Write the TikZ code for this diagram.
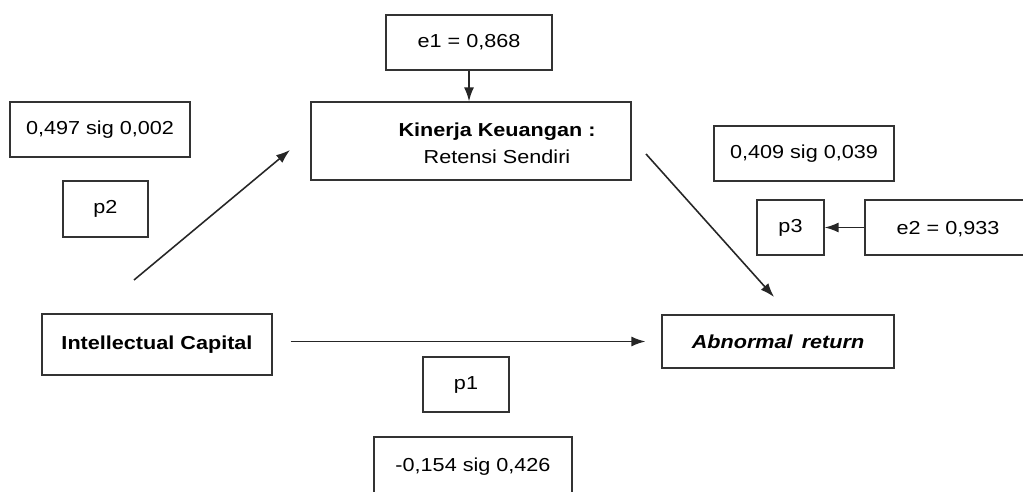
\documentclass[tikz,border=0pt]{standalone}
\usepackage{fontspec}
\setmainfont{Liberation Sans}[FakeStretch=1.15]
\usetikzlibrary{arrows.meta}

\tikzset{
  box/.style={draw=black!80, line width=0.7pt, inner sep=0pt, font=\fontsize{10.7}{15.4}\selectfont},
  arr/.style={draw=black!85, line width=0.9pt, -{Latex[length=0.28cm, width=0.2cm]}}
}

\begin{document}
\begin{tikzpicture}[x=0.02cm, y=-0.02cm]
            \useasboundingbox (0,0) rectangle (1023,492);

            % variables
            \node[box, minimum width=6.4cm, minimum height=1.56cm] (kin) at (471,141) {};
            \node[font=\fontsize{10.7}{15.4}\selectfont, align=center] (kintext) at (497,143)
                 {\textbf{Kinerja Keuangan :}\\Retensi Sendiri};
            \node[box, minimum width=4.6cm, minimum height=1.22cm] (ic) at (157,344.5) {\textbf{Intellectual Capital}};
            \node[box, minimum width=4.64cm, minimum height=1.06cm] (ar) at (778,341.5) {\textbf{\textit{Abnormal\, return}}};

            % errors
            \node[box, minimum width=3.32cm, minimum height=1.1cm] (e1) at (469,42.5) {e1 = 0,868};
            \node[box, minimum width=3.32cm, minimum height=1.1cm, text depth=-0.1cm] (e2) at (948,227.5) {e2 = 0,933};

            % paths
            \node[box, minimum width=3.6cm, minimum height=1.1cm] (c2) at (100,129.5) {0,497 sig 0,002};
            \node[box, minimum width=1.7cm, minimum height=1.12cm] (p2) at (105.5,209) {p2};
            \node[box, minimum width=3.6cm, minimum height=1.1cm] (c3) at (804,153.5) {0,409 sig 0,039};
            \node[box, minimum width=1.34cm, minimum height=1.1cm] (p3) at (790.5,227.5) {p3};
            \node[box, minimum width=1.72cm, minimum height=1.1cm] (p1) at (466,384.5) {p1};
            \node[box, minimum width=3.96cm, minimum height=1.2cm] (c1) at (473,467) {-0,154 sig 0,426};

            \coordinate (icout) at (134,280);
            \coordinate (kinin) at (290,150);
            \coordinate (kinout) at (646,154);
            \coordinate (arin) at (774,297);

            \draw[arr] (e1.south) -- (e1.south |- kin.north);
            \draw[arr] (icout) -- (kinin);
            \draw[arr] (kinout) -- (arin);
            \draw[arr, shorten <=0.36cm, shorten >=0.32cm] (ar.west -| ic.east) -- (ar.west);
            \draw[arr] (e2.west) -- (p3.east);
        \end{tikzpicture}
\end{document}
